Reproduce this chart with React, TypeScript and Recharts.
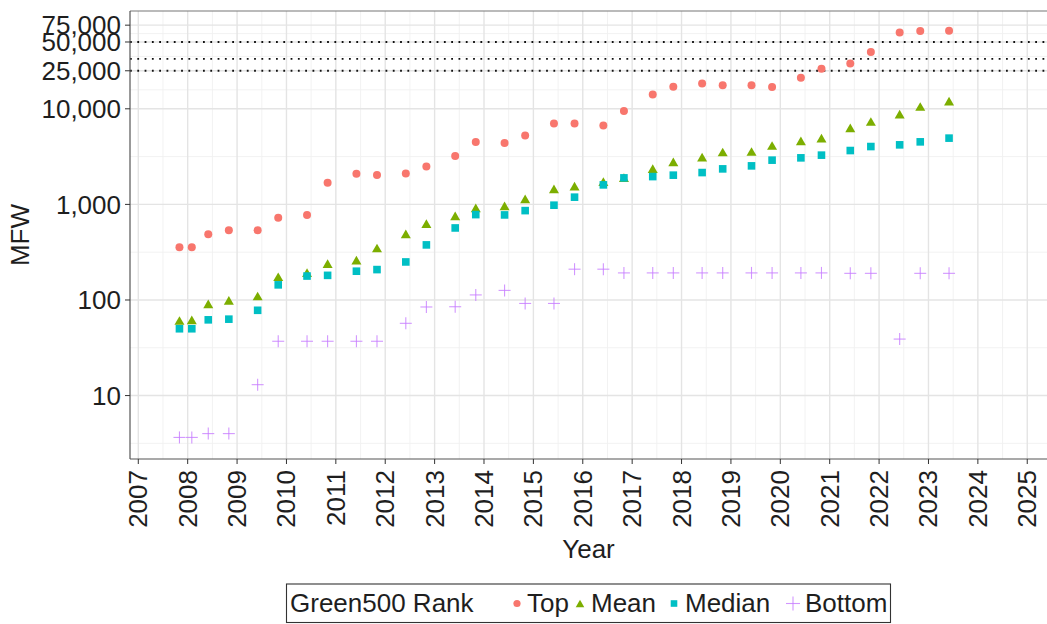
import React from 'react';
import { ScatterChart, Scatter, XAxis, YAxis, CartesianGrid, ReferenceLine } from 'recharts';

// Green500 list releases (year-month)
const listDates = [
  '2007-11', '2008-02', '2008-06', '2008-11', '2009-06', '2009-11', '2010-06', '2010-11',
  '2011-06', '2011-11', '2012-06', '2012-11', '2013-06', '2013-11', '2014-06', '2014-11',
  '2015-06', '2015-11', '2016-06', '2016-11', '2017-06', '2017-11', '2018-06', '2018-11',
  '2019-06', '2019-11', '2020-06', '2020-11', '2021-06', '2021-11', '2022-06', '2022-11',
  '2023-06',
];

// Energy efficiency in MFLOPS per watt for each list
const topMFW = [
  357, 357, 488, 536, 536, 723, 773, 1684, 2097, 2026, 2100, 2499, 3208, 4503, 4390, 5272,
  7031, 7031, 6673, 9462, 14110, 17009, 18404, 17604, 17600, 16876, 21108, 26195, 29700, 39380,
  62680, 65090, 65400,
];
const meanMFW = [
  61, 62, 91, 99, 110, 175, 193, 240, 261, 350, 491, 629, 758, 919, 964, 1142,
  1453, 1551, 1733, 1908, 2370, 2786, 3120, 3530, 3573, 4128, 4623, 4934, 6325, 7362,
  8805, 10570, 12040,
];
const medianMFW = [
  50, 50, 62, 63, 78, 144, 178, 181, 200, 208, 250, 377, 567, 782, 776, 861,
  981, 1190, 1600, 1894, 1954, 2022, 2153, 2353, 2530, 2903, 3069, 3275, 3660, 4030,
  4198, 4512, 4934,
];
const bottomMFW = [
  3.65, 3.65, 4.0, 4.0, 13, 37, 37, 37, 37, 37, 57, 84.5, 85, 113, 126, 92,
  92, 210, 210, 192, 192, 192, 192, 192, 192, 192, 192, 192, 190, 190,
  39, 190, 190,
];

// Axis breaks
const yearTicks = [2007, 2008, 2009, 2010, 2011, 2012, 2013, 2014, 2015, 2016, 2017, 2018, 2019, 2020, 2021, 2022, 2023, 2024, 2025];
const mfwTicks = [10, 100, 1000, 10000, 25000, 50000, 75000];
// 1 EFLOPS within a 20 / 30 / 40 MW power budget
const exascaleTargets = [50000, 100000 / 3, 25000];

const X_DOMAIN: [number, number] = [2006.832, 2025.4];
const Y_DOMAIN: [number, number] = [2.17, 105500];

const FONT = '"Liberation Sans", Arial, Helvetica, sans-serif';
const TEXT = '#1e1e1e';
const COLORS = { top: '#F8766D', mean: '#7CAE00', median: '#00BFC4', bottom: '#C77CFF' };

const toYear = (d: string) => {
  const [y, m] = d.split('-').map(Number);
  return y + (m - 1) / 12;
};

const series = (values: number[]) => listDates.map((d, i) => ({ x: toYear(d), y: values[i] }));

const topData = series(topMFW);
const meanData = series(meanMFW);
const medianData = series(medianMFW);
const bottomData = series(bottomMFW);

// minor grid sits halfway between major breaks (log space for y)
const minorX = yearTicks.slice(0, -1).map((y) => y + 0.5);
const minorY = [Math.sqrt(10), ...mfwTicks.slice(0, -1).map((v, i) => Math.sqrt(v * mfwTicks[i + 1]))];

const Dot = ({ cx, cy, r = 4 }: any) => <circle cx={cx} cy={cy} r={r} fill={COLORS.top} />;
const Tri = ({ cx, cy, s = 10 }: any) => {
  const h = s * 0.866;
  return (
    <polygon
      points={`${cx - s / 2},${cy + h / 2} ${cx + s / 2},${cy + h / 2} ${cx},${cy - h / 2}`}
      fill={COLORS.mean}
    />
  );
};
const Sq = ({ cx, cy, s = 7.6 }: any) => (
  <rect x={cx - s / 2} y={cy - s / 2} width={s} height={s} fill={COLORS.median} />
);
const Plus = ({ cx, cy, a = 6 }: any) => (
  <g stroke={COLORS.bottom} strokeWidth={1.1} strokeOpacity={0.8}>
    <line x1={cx - a} y1={cy} x2={cx + a} y2={cy} />
    <line x1={cx} y1={cy - a} x2={cx} y2={cy + a} />
  </g>
);

const YearTick = ({ x, y, payload }: any) => (
  <text
    x={x}
    y={y}
    transform={`rotate(-90, ${x}, ${y})`}
    textAnchor="end"
    dominantBaseline="central"
    fontSize={26}
    fontFamily={FONT}
    fill={TEXT}
  >
    {payload.value}
  </text>
);

const fmt = (v: number) => v.toLocaleString('en-US');

function LegendBox() {
  const base = 612;
  const mid = 603.5;
  const t = { fontSize: 26, fontFamily: FONT, fill: TEXT } as const;
  return (
    <svg
      width={1047}
      height={624}
      style={{ position: 'absolute', left: 0, top: 0, pointerEvents: 'none' }}
    >
      <rect x={286.5} y={584} width={604} height={38.5} fill="#fff" stroke="#333" strokeWidth={1.1} />
      <text x={290} y={base} {...t}>Green500 Rank</text>
      <Dot cx={517} cy={mid} r={3.6} />
      <text x={527} y={base} {...t}>Top</text>
      <Tri cx={580} cy={mid} s={8.6} />
      <text x={591} y={base} {...t}>Mean</text>
      <Sq cx={674} cy={mid} s={6.6} />
      <text x={685} y={base} {...t}>Median</text>
      <Plus cx={793} cy={mid} a={7} />
      <text x={805} y={base} {...t}>Bottom</text>
    </svg>
  );
}

export default function App() {
  return (
    <div style={{ position: 'absolute', left: 0, top: 0, width: 1047, height: 624, background: '#fff' }}>
      <ScatterChart width={1047} height={624} margin={{ top: 11, right: 0, bottom: 0, left: 0 }}>
        <CartesianGrid
          horizontalValues={minorY}
          verticalValues={minorX}
          stroke="#f0f0f0"
          strokeWidth={0.9}
        />
        <CartesianGrid
          horizontalValues={mfwTicks}
          verticalValues={yearTicks}
          stroke="#e4e4e4"
          strokeWidth={1.4}
        />
        <XAxis
          type="number"
          dataKey="x"
          domain={X_DOMAIN}
          allowDataOverflow
          ticks={yearTicks}
          interval={0}
          height={165}
          tickSize={5}
          tickMargin={6}
          tick={<YearTick />}
          tickLine={{ stroke: '#333' }}
          axisLine={{ stroke: '#555', strokeWidth: 1.2 }}
          label={{
            content: (p: any) => {
              const vb = p.viewBox || { x: 130, width: 917 };
              return (
                <text x={vb.x + vb.width / 2} y={558} textAnchor="middle" fontSize={26} fontFamily={FONT} fill={TEXT}>
                  Year
                </text>
              );
            },
          }}
        />
        <YAxis
          type="number"
          dataKey="y"
          scale="log"
          domain={Y_DOMAIN}
          allowDataOverflow
          ticks={mfwTicks}
          interval={0}
          width={130}
          tickSize={5}
          tickMargin={4}
          tickFormatter={fmt}
          tick={{ fontSize: 26, fontFamily: FONT, fill: TEXT }}
          tickLine={{ stroke: '#333' }}
          axisLine={{ stroke: '#555', strokeWidth: 1.2 }}
          label={{
            content: (p: any) => {
              const vb = p.viewBox || { y: 11, height: 448 };
              const cy = vb.y + vb.height / 2;
              return (
                <text
                  x={20}
                  y={cy}
                  transform={`rotate(-90, 20, ${cy})`}
                  textAnchor="middle"
                  dominantBaseline="central"
                  fontSize={26}
                  fontFamily={FONT}
                  fill={TEXT}
                >
                  MFW
                </text>
              );
            },
          }}
        />
        <ReferenceLine y={Y_DOMAIN[1]} stroke="#777" strokeWidth={1.2} />
        {exascaleTargets.map((v) => (
          <ReferenceLine key={v} y={v} stroke="#111" strokeWidth={1.8} strokeDasharray="1.8 5.5" />
        ))}
        <Scatter name="Top" data={topData} shape={<Dot />} isAnimationActive={false} />
        <Scatter name="Mean" data={meanData} shape={<Tri />} isAnimationActive={false} />
        <Scatter name="Median" data={medianData} shape={<Sq />} isAnimationActive={false} />
        <Scatter name="Bottom" data={bottomData} shape={<Plus />} isAnimationActive={false} />
      </ScatterChart>
      <LegendBox />
    </div>
  );
}
